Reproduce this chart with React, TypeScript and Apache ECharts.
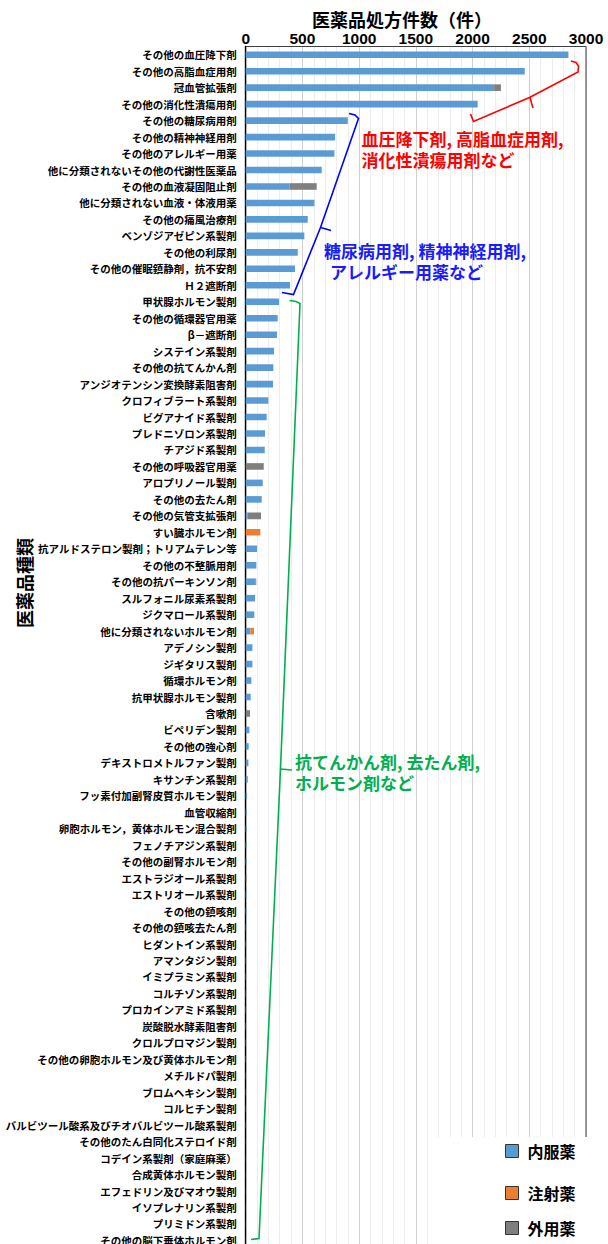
import React, { useEffect, useRef } from "react";
import * as echarts from "echarts";

// 医薬品種類（処方件数の多い順）
const categories: string[] = [
  "その他の血圧降下剤",
  "その他の高脂血症用剤",
  "冠血管拡張剤",
  "その他の消化性潰瘍用剤",
  "その他の糖尿病用剤",
  "その他の精神神経用剤",
  "その他のアレルギー用薬",
  "他に分類されないその他の代謝性医薬品",
  "その他の血液凝固阻止剤",
  "他に分類されない血液・体液用薬",
  "その他の痛風治療剤",
  "ベンゾジアゼピン系製剤",
  "その他の利尿剤",
  "その他の催眠鎮静剤，抗不安剤",
  "Ｈ２遮断剤",
  "甲状腺ホルモン製剤",
  "その他の循環器官用薬",
  "β－遮断剤",
  "システイン系製剤",
  "その他の抗てんかん剤",
  "アンジオテンシン変換酵素阻害剤",
  "クロフィブラート系製剤",
  "ビグアナイド系製剤",
  "プレドニゾロン系製剤",
  "チアジド系製剤",
  "その他の呼吸器官用薬",
  "アロプリノール製剤",
  "その他の去たん剤",
  "その他の気管支拡張剤",
  "すい臓ホルモン剤",
  "抗アルドステロン製剤；トリアムテレン等",
  "その他の不整脈用剤",
  "その他の抗パーキンソン剤",
  "スルフォニル尿素系製剤",
  "ジクマロール系製剤",
  "他に分類されないホルモン剤",
  "アデノシン製剤",
  "ジギタリス製剤",
  "循環ホルモン剤",
  "抗甲状腺ホルモン製剤",
  "含嗽剤",
  "ビペリデン製剤",
  "その他の強心剤",
  "デキストロメトルファン製剤",
  "キサンチン系製剤",
  "フッ素付加副腎皮質ホルモン製剤",
  "血管収縮剤",
  "卵胞ホルモン，黄体ホルモン混合製剤",
  "フェノチアジン系製剤",
  "その他の副腎ホルモン剤",
  "エストラジオール系製剤",
  "エストリオール系製剤",
  "その他の鎮咳剤",
  "その他の鎮咳去たん剤",
  "ヒダントイン系製剤",
  "アマンタジン製剤",
  "イミプラミン系製剤",
  "コルチゾン系製剤",
  "プロカインアミド系製剤",
  "炭酸脱水酵素阻害剤",
  "クロルプロマジン製剤",
  "その他の卵胞ホルモン及び黄体ホルモン剤",
  "メチルドパ製剤",
  "ブロムヘキシン製剤",
  "コルヒチン製剤",
  "バルビツール酸系及びチオバルビツール酸系製剤",
  "その他のたん白同化ステロイド剤",
  "コデイン系製剤（家庭麻薬）",
  "合成黄体ホルモン製剤",
  "エフェドリン及びマオウ製剤",
  "イソプレナリン系製剤",
  "プリミドン系製剤",
  "その他の脳下垂体ホルモン剤",
];

// 内服薬
const oralCounts: number[] = [
  2845, 2460, 2190, 2045, 900, 788, 782, 670, 388, 606,
  547, 517, 459, 435, 391, 294, 282, 276, 250, 244,
  241, 200, 185, 170, 168, 0, 150, 141, 15, 0,
  100, 94, 85, 82, 76, 41, 59, 59, 50, 44,
  0, 32, 26, 24, 18, 12, 10, 9, 8, 8,
  0, 6, 6, 5, 5, 5, 4, 4, 4, 3,
  3, 3, 2, 2, 2, 2, 1, 1, 1, 1,
  1, 1, 1,
];

// 注射薬
const injectionCounts: number[] = [
  0, 0, 0, 0, 0, 0, 0, 0, 0, 0,
  0, 0, 0, 0, 0, 0, 0, 0, 0, 0,
  0, 0, 0, 0, 0, 0, 0, 0, 0, 129,
  0, 0, 0, 0, 0, 32, 0, 0, 0, 0,
  0, 0, 0, 0, 0, 0, 0, 0, 0, 0,
  0, 0, 0, 0, 0, 0, 0, 0, 0, 0,
  0, 0, 0, 0, 0, 0, 0, 0, 0, 0,
  0, 0, 0,
];

// 外用薬
const externalCounts: number[] = [
  0, 0, 60, 0, 0, 0, 0, 0, 238, 0,
  0, 0, 0, 0, 0, 0, 0, 0, 0, 0,
  0, 0, 0, 0, 0, 159, 0, 0, 120, 0,
  0, 0, 8, 0, 0, 0, 0, 0, 0, 0,
  38, 0, 0, 0, 0, 0, 0, 0, 0, 0,
  7, 0, 0, 0, 0, 0, 0, 0, 0, 0,
  0, 0, 0, 0, 0, 0, 0, 0, 0, 0,
  0, 0, 0,
];

const seriesNames = ["内服薬", "注射薬", "外用薬"];
const seriesColors = ["#5B9BD5", "#ED7D31", "#7F7F7F"];

const xAxisTitle = "医薬品処方件数（件）";
const yAxisTitle = "医薬品種類";

const noteRed = ["血圧降下剤, 高脂血症用剤,", "消化性潰瘍用剤など"];
const noteBlue = ["糖尿病用剤, 精神神経用剤,", "アレルギー用薬など"];
const noteGreen = ["抗てんかん剤, 去たん剤,", "ホルモン剤など"];

const FONT = "'Noto Sans CJK JP', 'Noto Sans', sans-serif";
const NUM_FONT = "'Liberation Sans', Arial, sans-serif";

function noteText(text: string, x: number, y: number, color: string) {
  return {
    type: "text",
    x,
    y,
    z: 20,
    style: {
      text,
      fill: color,
      fontSize: 17,
      fontWeight: "bold",
      fontFamily: FONT,
      align: "left",
      verticalAlign: "middle",
    },
  };
}

function bracket(points: number[][], color: string) {
  return {
    type: "polyline",
    z: 20,
    shape: { points },
    style: { stroke: color, lineWidth: 1.6, fill: null },
  };
}

export default function App() {
  const ref = useRef<HTMLDivElement>(null);

  useEffect(() => {
    if (!ref.current) return;
    const chart = echarts.init(ref.current, null, { renderer: "svg" });

    // one legend per row; the first one carries the white backing box
    const legendLayout = [
      { left: 432, top: 1137, padding: [6, 12, 100, 73], bg: "#ffffff" },
      { left: 505, top: 1185, padding: 0, bg: "transparent" },
      { left: 505, top: 1220, padding: 0, bg: "transparent" },
    ];

    chart.setOption({
      animation: false,
      backgroundColor: "#ffffff",
      grid: {
        left: 245.7,
        top: 46.5,
        width: 340.3,
        height: 1202.2,
        show: true,
        borderColor: "#404040",
        borderWidth: 1,
        containLabel: false,
        outerBoundsMode: "none",
      },
      xAxis: {
        type: "value",
        position: "top",
        z: -1,
        min: 0,
        max: 3000,
        interval: 500,
        axisLine: { show: false },
        axisTick: { show: false },
        axisLabel: {
          color: "#000",
          fontSize: 15.5,
          fontWeight: "bold",
          fontFamily: NUM_FONT,
          margin: 0,
          formatter: (v: number) => String(v),
        },
        splitLine: { show: true, lineStyle: { color: "#D0D0D0", width: 1 } },
        minorTick: { show: false, splitNumber: 5 },
        minorSplitLine: { show: true, lineStyle: { color: "#EDEDED", width: 1 } },
      },
      yAxis: {
        type: "category",
        data: categories,
        inverse: true,
        axisLine: { show: true, lineStyle: { color: "#000", width: 1.4 } },
        axisTick: { show: false },
        splitLine: { show: false },
        axisLabel: {
          interval: 0,
          color: "#000",
          fontSize: 10.5,
          fontWeight: "bold",
          fontFamily: FONT,
          margin: 9,
        },
      },
      legend: seriesNames.map((name, i) => ({
        data: [name],
        orient: "vertical",
        left: legendLayout[i].left,
        top: legendLayout[i].top,
        padding: legendLayout[i].padding,
        backgroundColor: legendLayout[i].bg,
        itemWidth: 13,
        itemHeight: 13,
        icon: "rect",
        itemStyle: { borderColor: "#333", borderWidth: 1 },
        textStyle: {
          color: "#000",
          fontSize: 16,
          fontWeight: "bold",
          fontFamily: FONT,
          padding: [0, 0, 0, 4],
        },
        selectedMode: false,
      })),
      series: [oralCounts, injectionCounts, externalCounts].map((data, i) => ({
        name: seriesNames[i],
        type: "bar",
        stack: "total",
        data,
        barWidth: 6.6,
        itemStyle: { color: seriesColors[i] },
        emphasis: { disabled: true },
      })),
      graphic: [
        // axis titles
        {
          type: "text",
          x: 402,
          y: 18.5,
          z: 20,
          style: {
            text: xAxisTitle,
            fill: "#000",
            fontSize: 18,
            fontWeight: "bold",
            fontFamily: FONT,
            align: "center",
            verticalAlign: "middle",
          },
        },
        {
          type: "text",
          x: 24,
          y: 583,
          rotation: Math.PI / 2,
          z: 20,
          style: {
            text: yAxisTitle,
            fill: "#000",
            fontSize: 18,
            fontWeight: "bold",
            fontFamily: FONT,
            align: "center",
            verticalAlign: "middle",
          },
        },
        // red brace and note
        bracket(
          [
            [571, 61],
            [576, 62.5],
            [578.5, 66],
            [578, 72],
            [529.5, 97.5],
            [473.5, 121.5],
            [470.5, 114],
          ],
          "#FF0000"
        ),
        bracket(
          [
            [530, 97.5],
            [531.5, 103],
            [533, 108],
          ],
          "#FF0000"
        ),
        noteText(noteRed[0], 361.5, 138, "#FF0000"),
        noteText(noteRed[1], 361.5, 159, "#FF0000"),
        // blue brace and note
        bracket(
          [
            [349, 113.5],
            [355, 115],
            [358.5, 118.5],
            [320.5, 227.5],
            [293.5, 294.5],
            [282, 292.5],
          ],
          "#0000FF"
        ),
        bracket(
          [
            [320.5, 227.5],
            [326, 229],
            [331, 230.5],
          ],
          "#0000FF"
        ),
        noteText(noteBlue[0], 324, 250, "#1A1AFF"),
        noteText(noteBlue[1], 330, 271.5, "#1A1AFF"),
        // green brace and note
        bracket(
          [
            [289.5, 300.5],
            [296, 301.5],
            [300, 303.5],
            [280.5, 769],
            [259, 1238.5],
            [251, 1239.5],
          ],
          "#00B050"
        ),
        bracket(
          [
            [280.5, 769],
            [286, 769.5],
            [292, 770],
          ],
          "#00B050"
        ),
        noteText(noteGreen[0], 295, 761, "#00B050"),
        noteText(noteGreen[1], 295, 782.5, "#00B050"),
      ],
    });

    return () => {
      chart.dispose();
    };
  }, []);

  return (
    <div
      ref={ref}
      style={{
        position: "absolute",
        left: 0,
        top: 0,
        width: 608,
        height: 1244,
        overflow: "hidden",
      }}
    />
  );
}
